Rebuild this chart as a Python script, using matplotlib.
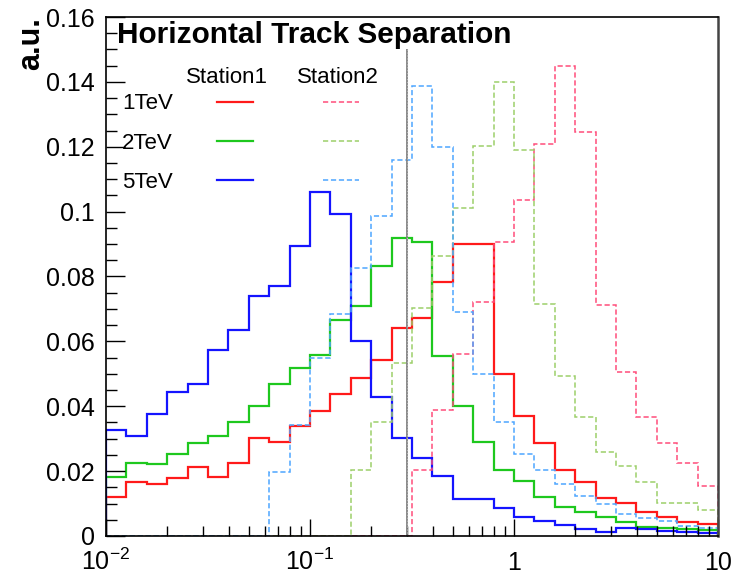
import numpy as np
import matplotlib
matplotlib.use("Agg")
import matplotlib.pyplot as plt
from matplotlib.ticker import LogLocator, NullFormatter, MultipleLocator

plt.rcParams['font.family'] = ['Liberation Sans', 'DejaVu Sans']
plt.rcParams['mathtext.fontset'] = 'custom'
plt.rcParams['mathtext.rm'] = 'Liberation Sans'
plt.rcParams['mathtext.it'] = 'Liberation Sans:italic'
plt.rcParams['mathtext.bf'] = 'Liberation Sans:bold'

# 30 log-spaced bins between 0.01 and 10
bin_edges = np.logspace(-2, 1, 31)

# Station1 (solid)
st1_1tev = [0.0121, 0.0166, 0.0159, 0.0178, 0.0214, 0.0183, 0.0226, 0.0301, 0.0289, 0.0339,
            0.0386, 0.0437, 0.0487, 0.0542, 0.0641, 0.0671, 0.0784, 0.0899, 0.0899, 0.0498,
            0.0370, 0.0288, 0.0202, 0.0165, 0.0118, 0.0101, 0.0073, 0.0060, 0.0044, 0.0037]
st1_2tev = [0.0183, 0.0226, 0.0222, 0.0252, 0.0288, 0.0308, 0.0350, 0.0400, 0.0468, 0.0517,
            0.0559, 0.0666, 0.0710, 0.0832, 0.0920, 0.0905, 0.0555, 0.0401, 0.0289, 0.0203,
            0.0168, 0.0121, 0.0090, 0.0073, 0.0060, 0.0042, 0.0029, 0.0024, 0.0021, 0.0018]
st1_5tev = [0.0327, 0.0309, 0.0375, 0.0443, 0.0468, 0.0572, 0.0634, 0.0740, 0.0772, 0.0894,
            0.1060, 0.0992, 0.0602, 0.0429, 0.0301, 0.0240, 0.0186, 0.0114, 0.0114, 0.0085,
            0.0060, 0.0047, 0.0035, 0.0020, 0.0013, 0.0024, 0.0022, 0.0016, 0.0012, 0.0010]

# Station2 (dashed)
st2_1tev = [0, 0, 0, 0, 0, 0, 0, 0, 0, 0,
            0, 0, 0, 0, 0, 0.0203, 0.0388, 0.0560, 0.0720, 0.0905,
            0.1036, 0.1208, 0.1450, 0.1246, 0.0712, 0.0506, 0.0366, 0.0288, 0.0224, 0.0154]
st2_2tev = [0, 0, 0, 0, 0, 0, 0, 0, 0, 0,
            0, 0, 0.0203, 0.0352, 0.0534, 0.0702, 0.0863, 0.1010, 0.1203, 0.1400,
            0.1190, 0.0715, 0.0493, 0.0366, 0.0258, 0.0215, 0.0166, 0.0103, 0.0101, 0.0079]
st2_5tev = [0, 0, 0, 0, 0, 0, 0, 0, 0.0198, 0.0342,
            0.0548, 0.0685, 0.0827, 0.0986, 0.1159, 0.1387, 0.1198, 0.0691, 0.0498, 0.0350,
            0.0253, 0.0203, 0.0159, 0.0123, 0.0098, 0.0068, 0.0055, 0.0045, 0.0030, 0.0025]

energies = ['1TeV', '2TeV', '5TeV']
stations = ['Station1', 'Station2']
solid_colors = ['#ff1a1a', '#1ec81e', '#1414ff']
dashed_colors = ['#ff4d7a', '#9ccf6a', '#4da6ff']

cut_x = 0.3
cut_top = 0.15

y_ticks = [0, 0.02, 0.04, 0.06, 0.08, 0.1, 0.12, 0.14, 0.16]
x_ticks = [0.01, 0.1, 1, 10]
x_labels = [r'$\mathdefault{10^{-2}}$', r'$\mathdefault{10^{-1}}$', '1', '10']

fig = plt.figure(figsize=(7.4, 5.77), dpi=100)
ax = fig.add_axes([0.1432, 0.0711, 0.8271, 0.8994])

h_solid = []
for vals, c in zip([st1_1tev, st1_2tev, st1_5tev], solid_colors):
    h_solid.append(ax.stairs(vals, bin_edges, color=c, lw=1.6))
h_dashed = []
for vals, c in zip([st2_1tev, st2_2tev, st2_5tev], dashed_colors):
    h_dashed.append(ax.stairs(vals, bin_edges, color=c, lw=1.1, linestyle=(0, (3.4, 1.8))))

ax.vlines(cut_x, 0, cut_top, color='#808080', lw=1.3)
ax.vlines(cut_x, 0, cut_top, color='#bbbbbb', lw=0.8, linestyle=':')

ax.set_xscale('log')
ax.set_xlim(bin_edges[0], bin_edges[-1])
ax.set_ylim(0, 0.16)

ax.set_yticks(y_ticks, ['%g' % t for t in y_ticks])
ax.yaxis.set_minor_locator(MultipleLocator(0.005))
ax.set_xticks(x_ticks, x_labels)
ax.xaxis.set_minor_locator(LogLocator(base=10, subs=np.arange(2, 10)))
ax.xaxis.set_minor_formatter(NullFormatter())

ax.tick_params(which='both', direction='in', top=False, right=False, width=1.0, labelsize=18)
ax.tick_params(axis='y', which='major', length=14, pad=8)
ax.tick_params(axis='y', which='minor', length=8)
ax.tick_params(axis='x', which='major', length=12, pad=24.5)
ax.tick_params(axis='x', which='minor', length=7)
for t in ax.xaxis.get_major_ticks():
    t.label1.set_va('baseline')
for s in ax.spines.values():
    s.set_linewidth(1.2)
ax.spines['right'].set_linewidth(1.8)
ax.spines['right'].set_color('#444444')

ax.set_ylabel('a.u.', fontsize=22, fontweight='bold', loc='top')
ax.yaxis.set_label_coords(-0.098, 1.0)

ax.text(0.018, 0.950, 'Horizontal Track Separation', transform=ax.transAxes,
        fontsize=21.4, fontweight='bold', va='baseline', ha='left')

leg = ax.legend(h_solid + h_dashed, energies + ['', '', ''], ncol=2, markerfirst=False,
                frameon=False, loc='upper left', bbox_to_anchor=(0.026, 0.853),
                fontsize=16, handlelength=1.6, handletextpad=2.0, columnspacing=1.17,
                labelspacing=0.82, borderpad=0, borderaxespad=0)
for txt, xc in zip(stations, [0.197, 0.379]):
    ax.text(xc, 0.873, txt, transform=ax.transAxes, fontsize=16, ha='center', va='baseline')

fig.savefig('out.png', dpi=100)
